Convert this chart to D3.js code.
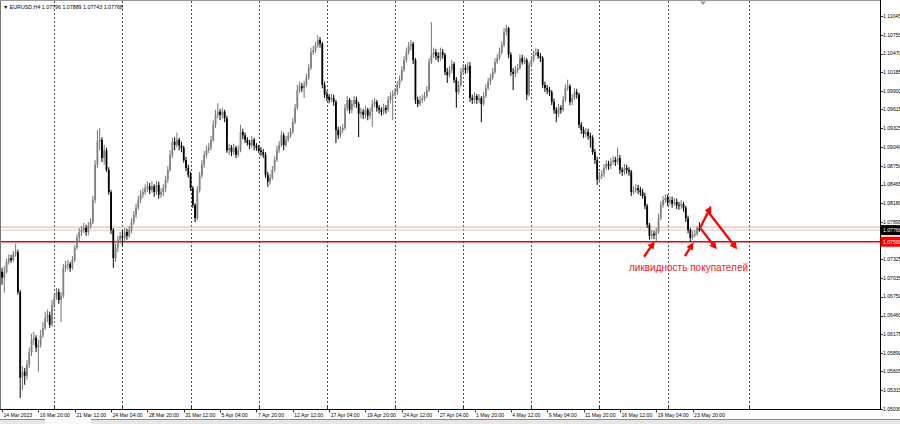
<!DOCTYPE html>
<html><head><meta charset="utf-8">
<script src="https://cdn.jsdelivr.net/npm/d3@7"></script>
<style>body{margin:0;background:#fff}svg{display:block}</style>
</head><body>
<svg id="c" width="900" height="424"></svg>
<script>
const symbolTitle = "EURUSD,H4";
const lastOHLC = ["1.07796","1.07889","1.07743","1.07768"];

const open = [
1.0713,1.0704,1.0713,1.0728,1.0734,1.0731,1.0740,1.0743,1.0682,1.0551,
1.0560,1.0554,1.0571,1.0590,1.0609,1.0612,1.0597,1.0601,1.0616,1.0627,
1.0642,1.0647,1.0632,1.0662,1.0673,1.0682,1.0670,1.0676,1.0719,1.0724,
1.0725,1.0719,1.0731,1.0750,1.0765,1.0774,1.0777,1.0780,1.0774,1.0783,
1.0789,1.0823,1.0877,1.0912,1.0915,1.0887,1.0899,1.0869,1.0835,1.0777,
1.0734,1.0750,1.0762,1.0768,1.0765,1.0774,1.0768,1.0777,1.0789,1.0800,
1.0811,1.0823,1.0831,1.0835,1.0841,1.0844,1.0838,1.0844,1.0835,1.0846,
1.0831,1.0835,1.0841,1.0854,1.0869,1.0892,1.0912,1.0907,1.0915,1.0906,
1.0903,1.0884,1.0872,1.0861,1.0841,1.0815,1.0795,1.0838,1.0861,1.0877,
1.0892,1.0899,1.0903,1.0915,1.0938,1.0953,1.0958,1.0953,1.0958,1.0948,
1.0899,1.0903,1.0896,1.0903,1.0892,1.0899,1.0927,1.0922,1.0915,1.0910,
1.0907,1.0915,1.0906,1.0903,1.0899,1.0896,1.0892,1.0861,1.0851,1.0857,
1.0869,1.0884,1.0899,1.0907,1.0922,1.0907,1.0915,1.0921,1.0927,1.0942,
1.0964,1.0991,1.0997,1.0994,1.0999,1.1010,1.1025,1.1049,1.1052,1.1059,
1.1068,1.1062,1.0999,1.0984,1.0981,1.0976,1.0979,1.0973,1.0930,1.0922,
1.0930,1.0933,1.0964,1.0976,1.0961,1.0970,1.0976,1.0970,1.0955,1.0958,
1.0953,1.0961,1.0952,1.0958,1.0970,1.0973,1.0964,1.0961,1.0958,1.0964,
1.0961,1.0976,1.0982,1.0985,1.0988,1.0999,1.1007,1.1022,1.1037,1.1049,
1.1059,1.1062,1.1037,1.0976,1.0970,1.0976,1.0978,1.0982,1.0991,1.1034,
1.1045,1.1049,1.1043,1.1040,1.1049,1.1045,1.1019,1.1014,1.1022,1.1031,
1.1007,1.0988,1.0999,1.1019,1.1025,1.1022,1.1028,1.0979,1.0976,1.0982,
1.0976,1.0979,1.0970,1.0982,1.0994,1.1004,1.1010,1.1019,1.1034,1.1040,
1.1049,1.1060,1.1080,1.1086,1.1045,1.1019,1.1016,1.1022,1.1025,1.1040,
1.1034,1.1037,1.0984,1.1030,1.1037,1.1046,1.1049,1.1043,1.1040,1.0999,
1.0994,1.0991,1.0988,1.0973,1.0961,1.0955,1.0964,1.0961,1.0976,1.0994,
1.0997,1.0973,1.0979,1.0988,1.0984,1.0938,1.0930,1.0924,1.0927,1.0921,
1.0918,1.0896,1.0884,1.0854,1.0860,1.0863,1.0872,1.0878,1.0875,1.0881,
1.0884,1.0881,1.0887,1.0869,1.0866,1.0872,1.0869,1.0866,1.0835,1.0838,
1.0841,1.0838,1.0835,1.0829,1.0814,1.0785,1.0768,1.0771,1.0769,1.0774,
1.0795,1.0815,1.0823,1.0826,1.0820,1.0823,1.0817,1.0820,1.0815,1.0814,
1.0817,1.0811,1.0795,1.0777,1.0765,1.0769,1.0771,1.07796];

const high = [
1.0719,1.0722,1.0733,1.0740,1.0739,1.0745,1.0756,1.0747,1.0685,1.0569,
1.0566,1.0578,1.0597,1.0618,1.0621,1.0616,1.0609,1.0624,1.0636,1.0652,
1.0655,1.0652,1.0670,1.0679,1.0688,1.0687,1.0682,1.0725,1.0730,1.0731,
1.0728,1.0737,1.0754,1.0771,1.0780,1.0783,1.0788,1.0785,1.0789,1.0795,
1.0829,1.0884,1.0930,1.0933,1.0919,1.0907,1.0903,1.0873,1.0838,1.0780,
1.0756,1.0768,1.0774,1.0777,1.0780,1.0779,1.0783,1.0795,1.0806,1.0817,
1.0829,1.0838,1.0841,1.0847,1.0851,1.0849,1.0852,1.0847,1.0852,1.0851,
1.0841,1.0847,1.0860,1.0875,1.0899,1.0918,1.0919,1.0926,1.0918,1.0912,
1.0906,1.0889,1.0877,1.0866,1.0844,1.0818,1.0844,1.0866,1.0884,1.0898,
1.0906,1.0910,1.0921,1.0945,1.0961,1.0971,1.0962,1.0964,1.0961,1.0952,
1.0909,1.0907,1.0909,1.0906,1.0906,1.0938,1.0932,1.0926,1.0919,1.0915,
1.0921,1.0918,1.0910,1.0907,1.0904,1.0901,1.0896,1.0866,1.0863,1.0875,
1.0890,1.0906,1.0913,1.0929,1.0926,1.0921,1.0927,1.0933,1.0948,1.0970,
1.0999,1.1004,1.1002,1.1005,1.1016,1.1031,1.1056,1.1059,1.1065,1.1075,
1.1072,1.1065,1.1004,1.0990,1.0985,1.0985,1.0984,1.0976,1.0935,1.0936,
1.0939,1.0970,1.0982,1.0979,1.0976,1.0982,1.0981,1.0973,1.0964,1.0962,
1.0967,1.0964,1.0964,1.0976,1.0979,1.0976,1.0968,1.0965,1.0970,1.0968,
1.0982,1.0988,1.0991,1.0994,1.1005,1.1013,1.1028,1.1043,1.1056,1.1065,
1.1068,1.1065,1.1040,1.0981,1.0982,1.0984,1.0988,1.0997,1.1040,1.1095,
1.1056,1.1054,1.1049,1.1056,1.1054,1.1048,1.1025,1.1028,1.1037,1.1034,
1.1011,1.1005,1.1025,1.1031,1.1030,1.1034,1.1034,1.0984,1.0988,1.0985,
1.0985,1.0982,1.0988,1.1000,1.1010,1.1016,1.1025,1.1040,1.1046,1.1056,
1.1066,1.1086,1.1091,1.1088,1.1049,1.1025,1.1028,1.1031,1.1046,1.1045,
1.1042,1.1040,1.1034,1.1043,1.1052,1.1056,1.1054,1.1048,1.1043,1.1004,
1.0999,1.0996,1.0991,1.0978,1.0965,1.0970,1.0968,1.0982,1.1000,1.1007,
1.1000,1.0985,1.0994,1.0993,1.0987,1.0942,1.0935,1.0933,1.0932,1.0926,
1.0922,1.0901,1.0889,1.0866,1.0869,1.0878,1.0884,1.0883,1.0887,1.0890,
1.0889,1.0903,1.0892,1.0873,1.0878,1.0877,1.0873,1.0869,1.0844,1.0847,
1.0846,1.0843,1.0840,1.0834,1.0817,1.0788,1.0777,1.0776,1.0780,1.0802,
1.0821,1.0829,1.0832,1.0831,1.0829,1.0828,1.0826,1.0825,1.0820,1.0823,
1.0820,1.0814,1.0799,1.0780,1.0776,1.0777,1.0783,1.07889];

const low = [
1.0693,1.0681,1.0710,1.0724,1.0727,1.0728,1.0736,1.0678,1.0520,1.0532,
1.0540,1.0548,1.0566,1.0584,1.0601,1.0590,1.0560,1.0597,1.0612,1.0624,
1.0636,1.0627,1.0629,1.0658,1.0670,1.0664,1.0636,1.0673,1.0713,1.0716,
1.0713,1.0716,1.0728,1.0747,1.0760,1.0768,1.0772,1.0768,1.0769,1.0779,
1.0786,1.0818,1.0872,1.0899,1.0881,1.0877,1.0866,1.0831,1.0771,1.0719,
1.0728,1.0743,1.0756,1.0753,1.0759,1.0762,1.0765,1.0772,1.0785,1.0795,
1.0808,1.0818,1.0826,1.0831,1.0835,1.0832,1.0834,1.0828,1.0831,1.0825,
1.0826,1.0829,1.0835,1.0849,1.0866,1.0887,1.0899,1.0903,1.0899,1.0896,
1.0880,1.0867,1.0857,1.0837,1.0811,1.0789,1.0792,1.0834,1.0857,1.0872,
1.0887,1.0895,1.0899,1.0912,1.0933,1.0948,1.0945,1.0948,1.0942,1.0895,
1.0892,1.0890,1.0892,1.0887,1.0889,1.0896,1.0916,1.0910,1.0906,1.0901,
1.0903,1.0899,1.0898,1.0895,1.0890,1.0887,1.0857,1.0843,1.0846,1.0854,
1.0866,1.0881,1.0895,1.0904,1.0899,1.0904,1.0912,1.0918,1.0924,1.0939,
1.0961,1.0987,1.0988,1.0979,1.0996,1.1007,1.1022,1.1045,1.1048,1.1056,
1.1056,1.0994,1.0979,1.0974,1.0971,1.0973,1.0967,1.0910,1.0916,1.0918,
1.0926,1.0930,1.0959,1.0955,1.0956,1.0965,1.0964,1.0919,1.0948,1.0947,
1.0948,1.0945,1.0947,1.0935,1.0965,1.0958,1.0955,1.0952,1.0953,1.0955,
1.0958,1.0971,1.0945,1.0981,1.0984,1.0994,1.1004,1.1019,1.1033,1.1045,
1.1052,1.1031,1.0970,1.0965,1.0967,1.0971,1.0974,1.0979,1.0988,1.1031,
1.1040,1.1037,1.1034,1.1036,1.1039,1.1014,1.1002,1.1010,1.1017,1.1002,
1.0964,1.0984,1.0996,1.1014,1.1016,1.1017,1.0973,1.0970,1.0971,1.0970,
1.0971,1.0942,1.0967,1.0979,1.0991,1.0999,1.1007,1.1016,1.1031,1.1037,
1.1046,1.1057,1.1075,1.1040,1.1013,1.0991,1.1011,1.1017,1.1022,1.1030,
1.1031,1.0976,1.0981,1.1026,1.1034,1.1043,1.1039,1.1034,1.0994,1.0988,
1.0985,1.0982,1.0968,1.0955,1.0942,1.0950,1.0955,1.0958,1.0973,1.0990,
1.0968,1.0968,1.0976,1.0978,1.0933,1.0924,1.0918,1.0919,1.0915,1.0903,
1.0892,1.0878,1.0846,1.0849,1.0855,1.0858,1.0869,1.0869,1.0870,1.0877,
1.0875,1.0877,1.0863,1.0860,1.0861,1.0863,1.0860,1.0829,1.0831,1.0834,
1.0832,1.0829,1.0825,1.0809,1.0780,1.0762,1.0763,1.0763,1.0760,1.0771,
1.0792,1.0811,1.0818,1.0814,1.0815,1.0811,1.0814,1.0809,1.0808,1.0809,
1.0805,1.0789,1.0772,1.0759,1.0762,1.0766,1.0768,1.07743];

const close = [
1.0704,1.0713,1.0728,1.0734,1.0731,1.0740,1.0743,1.0682,1.0551,1.0560,
1.0554,1.0571,1.0590,1.0609,1.0612,1.0597,1.0601,1.0616,1.0627,1.0642,
1.0647,1.0632,1.0662,1.0673,1.0682,1.0670,1.0676,1.0719,1.0724,1.0725,
1.0719,1.0731,1.0750,1.0765,1.0774,1.0777,1.0780,1.0774,1.0783,1.0789,
1.0823,1.0877,1.0912,1.0915,1.0887,1.0899,1.0869,1.0835,1.0777,1.0734,
1.0750,1.0762,1.0768,1.0765,1.0774,1.0768,1.0777,1.0789,1.0800,1.0811,
1.0823,1.0831,1.0835,1.0841,1.0844,1.0838,1.0844,1.0835,1.0846,1.0831,
1.0835,1.0841,1.0854,1.0869,1.0892,1.0912,1.0907,1.0915,1.0906,1.0903,
1.0884,1.0872,1.0861,1.0841,1.0815,1.0795,1.0838,1.0861,1.0877,1.0892,
1.0899,1.0903,1.0915,1.0938,1.0953,1.0958,1.0953,1.0958,1.0948,1.0899,
1.0903,1.0896,1.0903,1.0892,1.0899,1.0927,1.0922,1.0915,1.0910,1.0907,
1.0915,1.0906,1.0903,1.0899,1.0896,1.0892,1.0861,1.0851,1.0857,1.0869,
1.0884,1.0899,1.0907,1.0922,1.0907,1.0915,1.0921,1.0927,1.0942,1.0964,
1.0991,1.0997,1.0994,1.0999,1.1010,1.1025,1.1049,1.1052,1.1059,1.1068,
1.1062,1.0999,1.0984,1.0981,1.0976,1.0979,1.0973,1.0930,1.0922,1.0930,
1.0933,1.0964,1.0976,1.0961,1.0970,1.0976,1.0970,1.0955,1.0958,1.0953,
1.0961,1.0952,1.0958,1.0970,1.0973,1.0964,1.0961,1.0958,1.0964,1.0961,
1.0976,1.0982,1.0985,1.0988,1.0999,1.1007,1.1022,1.1037,1.1049,1.1059,
1.1062,1.1037,1.0976,1.0970,1.0976,1.0978,1.0982,1.0991,1.1034,1.1045,
1.1049,1.1043,1.1040,1.1049,1.1045,1.1019,1.1014,1.1022,1.1031,1.1007,
1.0988,1.0999,1.1019,1.1025,1.1022,1.1028,1.0979,1.0976,1.0982,1.0976,
1.0979,1.0970,1.0982,1.0994,1.1004,1.1010,1.1019,1.1034,1.1040,1.1049,
1.1060,1.1080,1.1086,1.1045,1.1019,1.1016,1.1022,1.1025,1.1040,1.1034,
1.1037,1.0984,1.1030,1.1037,1.1046,1.1049,1.1043,1.1040,1.0999,1.0994,
1.0991,1.0988,1.0973,1.0961,1.0955,1.0964,1.0961,1.0976,1.0994,1.0997,
1.0973,1.0979,1.0988,1.0984,1.0938,1.0930,1.0924,1.0927,1.0921,1.0918,
1.0896,1.0884,1.0854,1.0860,1.0863,1.0872,1.0878,1.0875,1.0881,1.0884,
1.0881,1.0887,1.0869,1.0866,1.0872,1.0869,1.0866,1.0835,1.0838,1.0841,
1.0838,1.0835,1.0829,1.0814,1.0785,1.0768,1.0771,1.0769,1.0774,1.0795,
1.0815,1.0823,1.0826,1.0820,1.0823,1.0817,1.0820,1.0815,1.0814,1.0817,
1.0811,1.0795,1.0777,1.0765,1.0769,1.0771,1.0780,1.07768];

const timeLabels = ["14 Mar 2023","16 Mar 20:00","21 Mar 12:00","24 Mar 04:00","28 Mar 20:00",
  "31 Mar 12:00","5 Apr 04:00","7 Apr 20:00","12 Apr 12:00","17 Apr 04:00","19 Apr 20:00",
  "24 Apr 12:00","27 Apr 04:00","1 May 20:00","4 May 12:00","9 May 04:00","11 May 20:00",
  "16 May 12:00","19 May 04:00","23 May 20:00"];
const barsPerLabel = 16;
const gridBars = [23,53,83,113,143,173,203,233,263,293,329];
const priceTicks = [1.11045,1.10755,1.10470,1.10185,1.09900,1.09615,1.09325,1.09040,1.08750,
  1.08465,1.08180,1.07895,1.07610,1.07325,1.07035,1.06750,1.06460,1.06175,1.05890,1.05605,
  1.05315,1.05030];
const currentPrice = 1.07768;
const levelOrange = 1.07814;
const levelRed = 1.07590;
const noteText = "ликвидность покупателей";
// annotation anchors: [bar, price]
const buyArrows = [[[282.6,1.0736],[286.6,1.0756]], [[300.6,1.0737],[303.7,1.0754]]];
const pathArrows = [[[307.3,1.0780],[311.6,1.0810]], [[307.6,1.0779],[313.8,1.0751]], [[310.6,1.0806],[322.8,1.0751]]];
const notePos = [276, 1.07136];

const svg = d3.select("#c");
const W = 900, H = 424, axisX = 880.5, axisY = 409.5;
const x = d3.scaleLinear().domain([0, 304]).range([2, 692.6]);
const y = d3.scaleLinear().domain([1.05030, 1.11045]).range([409, 16]);
const font = "'Liberation Sans', Arial, sans-serif";

svg.append("rect").attr("width", W).attr("height", H).attr("fill", "#fff");

const plot = svg.append("g");
plot.append("clipPath").attr("id","clp").append("rect").attr("x",1).attr("y",1).attr("width",axisX-1).attr("height",axisY-1);

// vertical grid
plot.selectAll("line.grid").data(gridBars).enter().append("line")
  .attr("x1", d => Math.round(x(d)) + 0.5).attr("x2", d => Math.round(x(d)) + 0.5)
  .attr("y1", 1).attr("y2", axisY)
  .attr("stroke", "#222").attr("stroke-width", 0.8).attr("stroke-dasharray", "2,2");

// level lines
plot.append("line").attr("x1",1).attr("x2",axisX).attr("y1",y(levelOrange)).attr("y2",y(levelOrange))
  .attr("stroke","#f7a88a").attr("stroke-width",1);
plot.append("line").attr("x1",1).attr("x2",axisX).attr("y1",y(currentPrice)).attr("y2",y(currentPrice))
  .attr("stroke","#cfcfcf").attr("stroke-width",1);
plot.append("line").attr("x1",1).attr("x2",axisX).attr("y1",y(levelRed)).attr("y2",y(levelRed))
  .attr("stroke","#ee0000").attr("stroke-width",1.3);

// candles
const n = Math.min(open.length, high.length, low.length, close.length);
const bars = d3.range(n).map(i => ({i, o: open[i], h: high[i], l: low[i], c: close[i]}));
const cg = plot.append("g").attr("clip-path","url(#clp)");
cg.selectAll("line.wick").data(bars).enter().append("line")
  .attr("x1", d => x(d.i)).attr("x2", d => x(d.i))
  .attr("y1", d => y(d.h)).attr("y2", d => y(d.l))
  .attr("stroke", d => d.c >= d.o ? "#747474" : "#000").attr("stroke-width", 1);
cg.selectAll("rect.body").data(bars).enter().append("rect")
  .attr("x", d => x(d.i) - 0.9).attr("width", 1.8)
  .attr("y", d => y(Math.max(d.o, d.c)))
  .attr("height", d => Math.max(0.8, Math.abs(y(d.o) - y(d.c))))
  .attr("fill", d => d.c >= d.o ? "#808080" : "#000");

// frame
svg.append("line").attr("x1",0.5).attr("x2",0.5).attr("y1",0).attr("y2",axisY).attr("stroke","#777");
svg.append("line").attr("x1",0).attr("x2",axisX).attr("y1",0.5).attr("y2",0.5).attr("stroke","#999");

// price axis
svg.append("line").attr("x1",axisX).attr("x2",axisX).attr("y1",0).attr("y2",axisY).attr("stroke","#000");
const pa = svg.append("g");
pa.selectAll("line").data(priceTicks).enter().append("line")
  .attr("x1",axisX).attr("x2",axisX+2.5).attr("y1",d=>Math.round(y(d))+0.5).attr("y2",d=>Math.round(y(d))+0.5)
  .attr("stroke","#000").attr("stroke-width",0.8);
pa.selectAll("text").data(priceTicks).enter().append("text")
  .attr("x", axisX + 2.5).attr("y", d => y(d)).attr("dy","0.35em")
  .attr("font-family", font).attr("font-size", 5.1).attr("fill","#000")
  .text(d => d.toFixed(5));

// price tags
function tag(v, bg, fg){
  const g = svg.append("g");
  g.append("rect").attr("x",axisX).attr("y",y(v)-5).attr("width",W-axisX).attr("height",10).attr("fill",bg);
  g.append("text").attr("x",axisX+2.5).attr("y",y(v)).attr("dy","0.35em")
    .attr("font-family",font).attr("font-size",5.1).attr("fill",fg).text(v.toFixed(5));
}
tag(currentPrice, "#000", "#fff");
tag(levelRed, "#ff0000", "#fff");

// time axis
svg.append("line").attr("x1",0).attr("x2",axisX+1).attr("y1",axisY).attr("y2",axisY).attr("stroke","#000");
const ta = svg.append("g");
const tl = timeLabels.map((t,k)=>({t, b:k*barsPerLabel}));
ta.selectAll("line").data(tl).enter().append("line")
  .attr("x1",d=>Math.round(x(d.b))+0.5).attr("x2",d=>Math.round(x(d.b))+0.5)
  .attr("y1",axisY).attr("y2",axisY+3).attr("stroke","#000").attr("stroke-width",0.8);
ta.selectAll("line.g").data(gridBars.filter(b=>x(b)<axisX)).enter().append("line")
  .attr("x1",d=>Math.round(x(d))+0.5).attr("x2",d=>Math.round(x(d))+0.5)
  .attr("y1",axisY-3).attr("y2",axisY).attr("stroke","#000").attr("stroke-width",0.8);
ta.selectAll("text").data(tl).enter().append("text")
  .attr("x",d=>x(d.b)+1.5).attr("y",axisY+5.3).attr("dy","0.35em")
  .attr("font-family",font).attr("font-size",5.1).attr("fill","#000").text(d=>d.t);

// bottom strip
svg.append("rect").attr("x",0).attr("y",419).attr("width",W).attr("height",5).attr("fill","#e6e6e6");
svg.append("line").attr("x1",0).attr("x2",W).attr("y1",419.5).attr("y2",419.5).attr("stroke","#8a8a8a");
svg.append("rect").attr("x",45).attr("y",419).attr("width",46).attr("height",5).attr("fill","#fafafa");

// title
svg.append("text").attr("x",3).attr("y",7).attr("dy","0.35em").attr("font-family",font)
  .attr("font-size",5.3).attr("fill","#000")
  .text("\u25BC " + symbolTitle + " " + lastOHLC.join(" "));

// chart shift marker
svg.append("path").attr("d","M700,1.5 L706,1.5 L703,5 Z").attr("fill","#9a9a9a");

// annotations
const defs = svg.append("defs");
defs.append("marker").attr("id","ah").attr("viewBox","0 0 10 10").attr("refX",6).attr("refY",5)
  .attr("markerWidth",7.5).attr("markerHeight",7.5).attr("markerUnits","userSpaceOnUse").attr("orient","auto")
  .append("path").attr("d","M0,0 L10,5 L0,10 Z").attr("fill","#ff0000");
const ann = svg.append("g");
ann.selectAll("line.a").data(buyArrows.concat(pathArrows)).enter().append("line")
  .attr("x1",d=>x(d[0][0])).attr("y1",d=>y(d[0][1])).attr("x2",d=>x(d[1][0])).attr("y2",d=>y(d[1][1]))
  .attr("stroke","#ff0000").attr("stroke-width",2.3).attr("marker-end","url(#ah)");
ann.append("text").attr("x",x(notePos[0])).attr("y",y(notePos[1]))
  .attr("font-family",font).attr("font-size",10).attr("fill","#ff1111").text(noteText);
</script>
</body></html>
